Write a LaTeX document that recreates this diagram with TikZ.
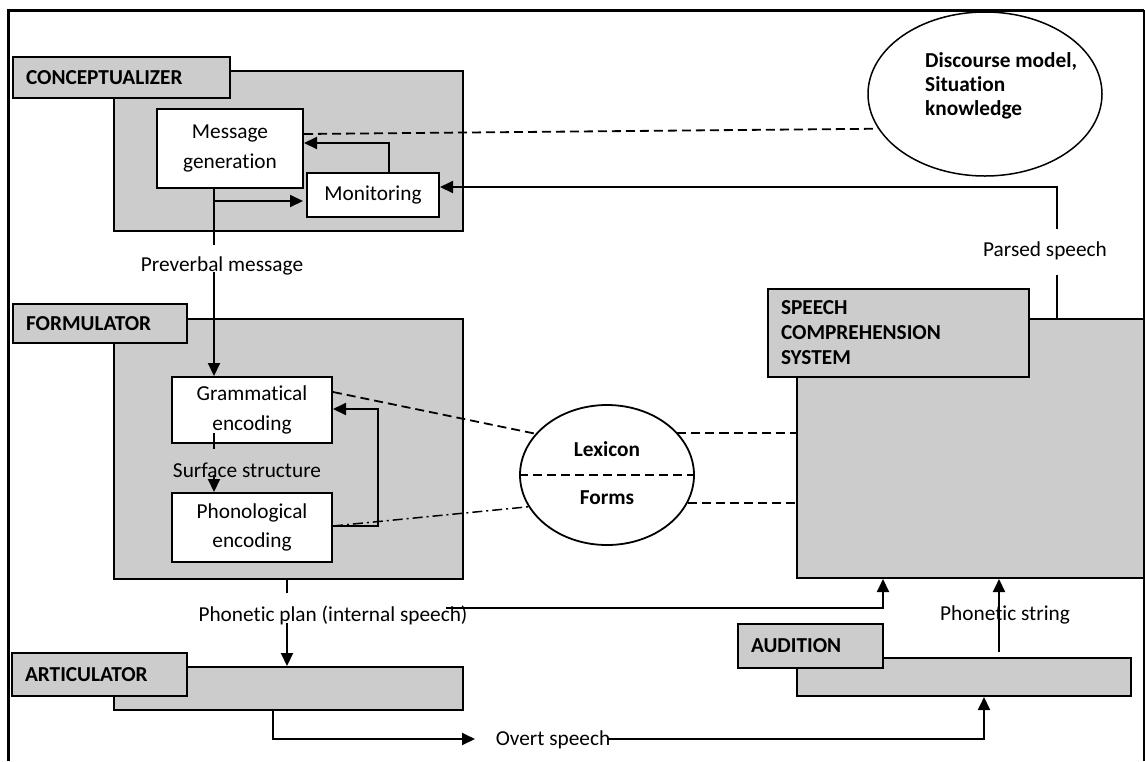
\documentclass[tikz,border=0pt]{standalone}
\usepackage{fontspec}
\setmainfont{Carlito}[Ligatures={NoCommon}]
\usetikzlibrary{arrows.meta,shapes.geometric}
\definecolor{boxgray}{RGB}{204,204,204}
\begin{document}
\begin{tikzpicture}[x=1pt,y=-1pt,
  every node/.style={font=\fontsize{21.3}{29.5}\selectfont},
  mainbox/.style={draw, fill=boxgray, line width=2pt, anchor=north west, inner sep=0pt},
  labbox/.style={draw, fill=boxgray, line width=2pt, anchor=north west, align=left, inner xsep=13pt, inner ysep=0pt, font=\fontsize{21.3}{25}\selectfont\bfseries},
  wbox/.style={draw, fill=white, line width=2pt, anchor=north west, align=center, inner sep=0pt},
  conn/.style={line width=2pt},
  arr/.style={conn, -{Triangle[length=13pt,width=12pt]}},
  dsh/.style={line width=1.8pt, dash pattern=on 9pt off 5pt},
  dshdot/.style={line width=1.5pt, dash pattern=on 10pt off 4pt on 2pt off 4pt},
  lbl/.style={inner sep=1pt},
  bld/.style={font=\fontsize{21.3}{24}\selectfont\bfseries}
]
\useasboundingbox (0,0) rectangle (1145,761);

% outer frame
\draw[line width=3pt] (8,761) -- (8,10) -- (1144,10);
\draw[line width=1.2pt] (1144,10) -- (1144,761);

% main boxes
\node[mainbox, minimum width=349pt, minimum height=160pt] (cmain) at (113,70) {};
\node[mainbox, minimum width=349pt, minimum height=260pt] (fmain) at (113,318) {};
\node[mainbox, minimum width=349pt, minimum height=43pt] (amain) at (113,666) {};
\node[mainbox, minimum width=347pt, minimum height=259pt] (smain) at (796,318) {};
\node[mainbox, minimum width=334pt, minimum height=38pt] (aumain) at (796,657) {};

% label boxes
\node[labbox, text width=191pt, minimum height=41pt] (clab) at (12,56) {CONCEPTUALIZER};
\node[labbox, text width=148pt, minimum height=39pt] (flab) at (12,303) {FORMULATOR};
\node[labbox, text width=149pt, minimum height=43pt] (alab) at (11,652) {ARTICULATOR};
\node[labbox, text width=235pt, minimum height=88pt] (slab) at (767,288) {SPEECH\\COMPREHENSION\\SYSTEM};
\node[labbox, text width=119pt, minimum height=44pt] (aulab) at (737,623) {AUDITION};

% inner boxes
\node[wbox, minimum width=146pt, minimum height=79pt] (mg) at (156,108) {Message\\generation};
\node[wbox, minimum width=132pt, minimum height=44pt] (mon) at (306,172) {Monitoring};
\node[wbox, minimum width=160pt, minimum height=66pt] (gram) at (171,376) {Grammatical\\encoding};
\node[wbox, minimum width=160pt, minimum height=69pt] (phon) at (171,492) {Phonological\\encoding};

% ellipses
\node[ellipse, draw, fill=white, line width=1.8pt, minimum width=174pt, minimum height=140pt, inner sep=0pt] (lex) at (607,475) {};
\node[ellipse, draw, fill=white, line width=1.5pt, minimum width=234pt, minimum height=164pt, inner sep=0pt] (ds) at (985,94) {};
\node[bld, align=left, anchor=west, inner sep=0pt] (dstext) at (925,86) {Discourse model,\\Situation\\knowledge};
\node[bld, inner sep=0pt] (lexname) at (607,449) {Lexicon};
\node[bld, inner sep=0pt] (forms) at (607,498) {Forms};
\draw[dsh] (lex.west) -- (lex.east);

% free text labels
\node[lbl] (pvm) at (222,266) {Preverbal message};
\node[lbl] (ss) at (247,470) {Surface structure};
\node[lbl] (ppl) at (333,615) {Phonetic plan (internal speech)};
\node[lbl] (ovt) at (553,740) {Overt speech};
\node[lbl] (pst) at (1005,615) {Phonetic string};
\node[lbl] (prs) at (1045,251) {Parsed speech};

% coordinates
\coordinate (pvtop) at (214,245);
\coordinate (pvbot) at (214,272);
\coordinate (mgbr) at (214,201);
\coordinate (monup) at (389,143);
\coordinate (dsl) at (302,134);
\coordinate (psup) at (1057,229);
\coordinate (psdn) at (1057,275);
\coordinate (psturn) at (1057,187);
\coordinate (ssa) at (214,433);
\coordinate (ssb) at (214,449);
\coordinate (ssc) at (214,475);
\coordinate (fbl) at (378,526);
\coordinate (fbt) at (378,409);
\coordinate (gd) at (331,392);
\coordinate (ppa) at (287,593);
\coordinate (ppb) at (287,623);
\coordinate (pph) at (446,608);
\coordinate (ppr) at (883,608);
\coordinate (ao1) at (273,739);
\coordinate (ao2) at (475,739);
\coordinate (ov1) at (608,739);
\coordinate (ov2) at (984,739);
\coordinate (ps1) at (999,652);

% conceptualizer connectors
\draw[conn] (mg.south -| pvtop) -- (pvtop);
\draw[arr] (pvbot) -- (gram.north -| pvbot);
\draw[arr, shorten >=3pt] (mgbr) -- (mon.west |- mgbr);
\draw[arr] (mon.north -| monup) |- (mg.east |- monup);
\draw[dsh] (mg.east |- dsl) -- (ds.198);

% parsed speech
\draw[conn] (smain.north -| psdn) -- (psdn);
\draw[arr] (psup) -- (psturn) -- (mon.east |- psturn);

% formulator connectors
\draw[line width=1.2pt] (ssa) -- (ssb);
\draw[arr] (ssc) -- (phon.north -| ssc);
\draw[arr] (phon.east |- fbl) -- (fbl) -- (fbt) -- (gram.east |- fbt);
\draw[dsh] (gram.east |- gd) -- (lex.150);
\draw[dshdot] (phon.east |- fbl) -- (lex.202);
\draw[dsh] (lex.31) -- (lex.31 -| smain.west);
\draw[dsh] (lex.341) -- (lex.341 -| smain.west);

% phonetic plan
\draw[conn] (fmain.south -| ppa) -- (ppa);
\draw[arr] (ppb) -- (amain.north -| ppb);
\draw[arr] (pph) -- (ppr) -- (smain.south -| ppr);

% articulator / overt speech
\draw[arr] (amain.south -| ao1) -- (ao1) -- (ao2);
\draw[arr] (ov1) -- (ov2) -- (aumain.south -| ov2);

% phonetic string
\draw[arr] (ps1) -- (smain.south -| ps1);
\end{tikzpicture}
\end{document}
